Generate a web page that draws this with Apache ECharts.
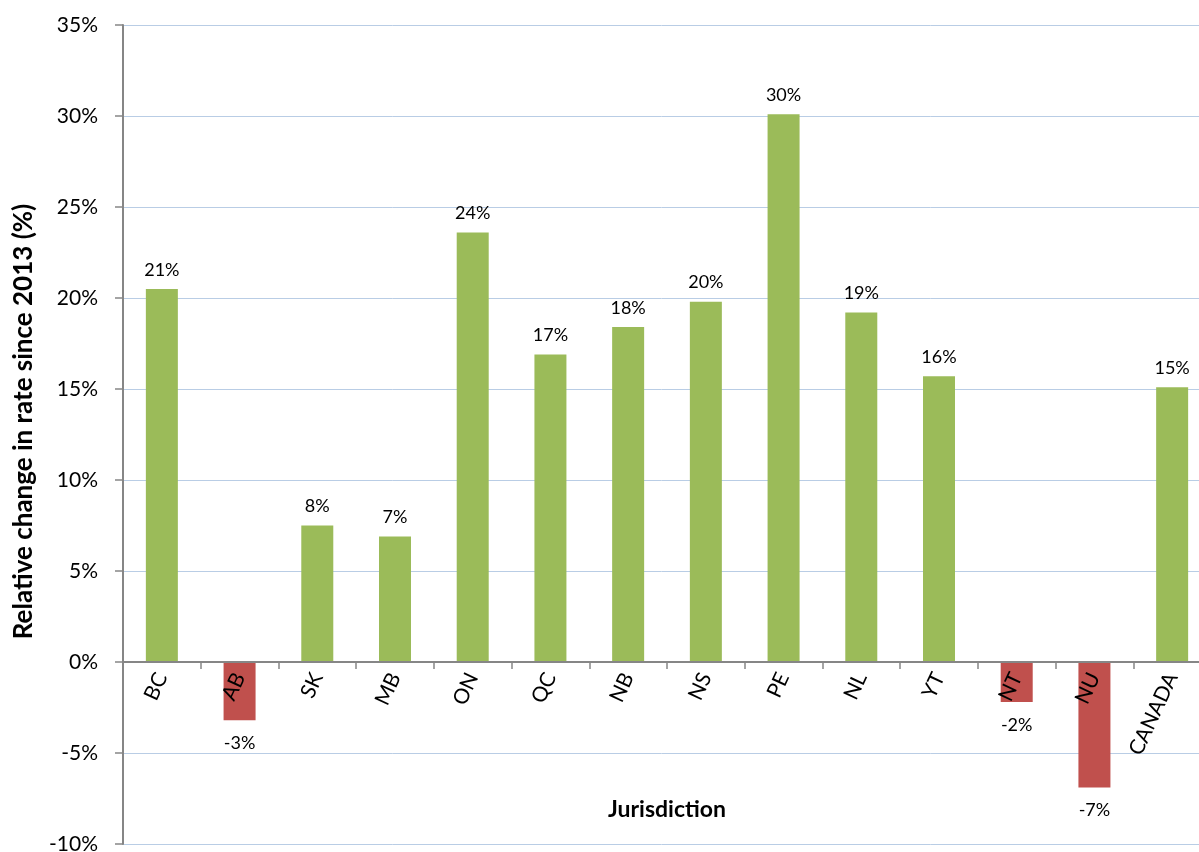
<!DOCTYPE html>
<html>
<head>
<meta charset="utf-8">
<script src="https://cdn.jsdelivr.net/npm/echarts@6/dist/echarts.min.js"></script>
<style>
  html, body { margin: 0; padding: 0; background: #ffffff; }
  #chart { width: 1199px; height: 852px; }
</style>
</head>
<body>
<div id="chart"></div>
<script>
// Jurisdictions and relative change in rate since 2013 (%)
const jurisdictions = ['BC', 'AB', 'SK', 'MB', 'ON', 'QC', 'NB', 'NS', 'PE', 'NL', 'YT', 'NT', 'NU', 'CANADA'];
const changePct = [20.5, -3.2, 7.5, 6.9, 23.6, 16.9, 18.4, 19.8, 30.1, 19.2, 15.7, -2.2, -6.9, 15.1];
const yTicks = [-10, -5, 0, 5, 10, 15, 20, 25, 30, 35];

const FONT = 'Lato, "Open Sans", sans-serif';
const GREEN = '#9BBB59';
const RED = '#C0504D';

const GRID_TOP = 25, GRID_H = 819;
const yMin = yTicks[0], yMax = yTicks[yTicks.length - 1];
// lift the category axis from the bottom edge up to the 0% line
const zeroOffset = -GRID_H * (0 - yMin) / (yMax - yMin);

const chart = echarts.init(document.getElementById('chart'));

chart.setOption({
  animation: false,
  backgroundColor: '#ffffff',
  grid: {
    left: 123, top: GRID_TOP, width: 1088, height: GRID_H,
    containLabel: false, outerBoundsMode: 'none'
  },
  xAxis: {
    type: 'category',
    data: jurisdictions,
    position: 'bottom',
    offset: zeroOffset,
    z: 10,
    name: 'Jurisdiction',
    nameLocation: 'middle',
    nameGap: 136,
    nameTextStyle: { fontFamily: FONT, fontSize: 23, fontWeight: 'bold', color: '#000' },
    axisLine: { onZero: false, lineStyle: { color: '#868686', width: 2 } },
    axisTick: { show: true, alignWithLabel: false, length: 7, lineStyle: { color: '#868686', width: 1.5 } },
    axisLabel: {
      rotate: 65, interval: 0, margin: 12,
      fontFamily: FONT, fontSize: 21, color: '#000'
    },
    splitLine: { show: false }
  },
  yAxis: {
    type: 'value',
    min: yMin,
    max: yMax,
    interval: 5,
    name: 'Relative change in rate since 2013 (%)',
    nameLocation: 'middle',
    nameGap: 86,
    nameRotate: 90,
    nameTextStyle: {
      fontFamily: FONT, fontSize: 26, fontWeight: 'bold', color: '#000',
      padding: [0, 0, 0, 26]
    },
    axisLine: { show: true, lineStyle: { color: '#868686', width: 2 } },
    axisTick: { show: true, length: 8, lineStyle: { color: '#868686', width: 1.5 } },
    axisLabel: {
      margin: 25, fontFamily: FONT, fontSize: 21, color: '#000',
      formatter: v => v + '%'
    },
    splitLine: { show: true, lineStyle: { color: '#B9CDE5', width: 1 } }
  },
  series: [{
    type: 'bar',
    barWidth: 32,
    data: changePct.map(v => ({
      value: v,
      itemStyle: { color: v < 0 ? RED : GREEN },
      label: v < 0 ? { position: 'bottom', distance: 14 } : { position: 'top', distance: 10 }
    })),
    label: {
      show: true,
      fontFamily: FONT, fontSize: 18, color: '#000',
      formatter: p => Math.round(p.value) + '%'
    }
  }]
});
</script>
</body>
</html>
